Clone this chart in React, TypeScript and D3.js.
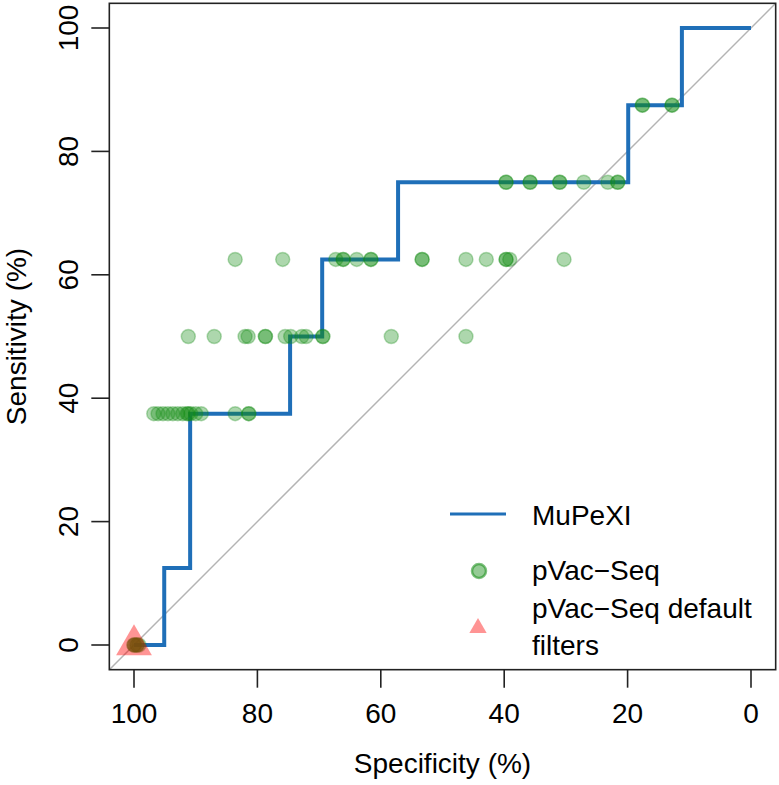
import { useEffect, useRef } from 'react';
import * as d3 from 'd3';

// MuPeXI ROC curve (specificity %, sensitivity %)
const mupexiSpec = [100, 95.1, 90.9, 74.7, 69.5, 57.2, 19.9, 11.2, 0];
const mupexiSens = [0, 12.5, 37.5, 50, 62.5, 75, 87.5, 100, 100];

// pVac-Seq runs with different filter settings
const pvacSpec = [
  100, 100, 99.8, 99.5, 99.5, 99.2,
  96.8, 96.1, 95.3, 94.5, 93.7, 92.9, 92.1, 91.4, 91.2, 90.8, 90.0, 89.1, 83.6, 81.4, 81.4,
  91.2, 87.0, 82.0, 81.5, 78.7, 78.7, 75.5, 74.6, 72.8, 72.1, 69.4, 69.4, 58.3, 46.2,
  83.6, 75.9, 67.3, 66.1, 66.1, 63.9, 61.6, 61.6, 53.3, 53.3, 46.2, 42.9, 39.7, 39.7, 39.1, 30.3,
  39.7, 39.7, 35.8, 35.8, 31.0, 31.0, 27.1, 23.2, 21.6, 21.6,
  17.6, 17.6, 12.8, 12.8,
];
const pvacSens = [
  0, 0, 0, 0, 0, 0,
  37.5, 37.5, 37.5, 37.5, 37.5, 37.5, 37.5, 37.5, 37.5, 37.5, 37.5, 37.5, 37.5, 37.5, 37.5,
  50, 50, 50, 50, 50, 50, 50, 50, 50, 50, 50, 50, 50, 50,
  62.5, 62.5, 62.5, 62.5, 62.5, 62.5, 62.5, 62.5, 62.5, 62.5, 62.5, 62.5, 62.5, 62.5, 62.5, 62.5,
  75, 75, 75, 75, 75, 75, 75, 75, 75, 75,
  87.5, 87.5, 87.5, 87.5,
];

// pVac-Seq with default filters
const defaultSpec = [100];
const defaultSens = [0];

const ticks = [0, 20, 40, 60, 80, 100];
const legendLabels = ['MuPeXI', 'pVac\u2212Seq', 'pVac\u2212Seq default', 'filters'];

const W = 779;
const H = 785;
const FONT = '"Liberation Sans", Arial, Helvetica, sans-serif';
const BLUE = '#1f6fb8';
const GREEN = 'rgb(20,140,20)';

export default function App() {
  const svgRef = useRef<SVGSVGElement>(null);

  useEffect(() => {
    if (!svgRef.current) return;
    const svg = d3.select(svgRef.current);
    svg.selectAll('*').remove();

    const x = d3.scaleLinear().domain([100, 0]).range([134, 751]);
    const y = d3.scaleLinear().domain([0, 100]).range([645, 28]);
    const [bx0, bx1] = [x(104), x(-4)];
    const [by0, by1] = [y(104), y(-4)];

    // diagonal reference
    svg.append('line')
      .attr('x1', x(104)).attr('y1', y(-4))
      .attr('x2', x(-4)).attr('y2', y(104))
      .attr('stroke', '#b4b4b4')
      .attr('stroke-width', 1.5);

    // MuPeXI step curve
    const steps = mupexiSpec.map((s, i) => [s, mupexiSens[i]] as [number, number]);
    const line = d3.line<[number, number]>()
      .x(d => x(d[0]))
      .y(d => y(d[1]))
      .curve(d3.curveStepAfter);
    svg.append('path')
      .datum(steps)
      .attr('d', line)
      .attr('fill', 'none')
      .attr('stroke', BLUE)
      .attr('stroke-width', 4);

    // pVac-Seq points
    svg.append('g')
      .selectAll('circle')
      .data(pvacSpec)
      .join('circle')
      .attr('cx', d => x(d))
      .attr('cy', (_, i) => y(pvacSens[i]))
      .attr('r', 7)
      .attr('fill', GREEN)
      .attr('fill-opacity', 0.35)
      .attr('stroke', GREEN)
      .attr('stroke-opacity', 0.3)
      .attr('stroke-width', 1.5);

    // default filters
    const tri = d3.symbol().type(d3.symbolTriangle).size(555);
    svg.append('g')
      .selectAll('path')
      .data(defaultSpec)
      .join('path')
      .attr('d', tri)
      .attr('transform', (d, i) => `translate(${x(d)},${y(defaultSens[i])})`)
      .attr('fill', 'rgb(255,0,0)')
      .attr('fill-opacity', 0.42);

    // box
    svg.append('rect')
      .attr('x', bx0).attr('y', by0)
      .attr('width', bx1 - bx0).attr('height', by1 - by0)
      .attr('fill', 'none')
      .attr('stroke', '#222')
      .attr('stroke-width', 1.6);

    // x axis
    const xa = svg.append('g').attr('font-family', FONT).attr('font-size', 28);
    ticks.forEach(t => {
      xa.append('line')
        .attr('x1', x(t)).attr('x2', x(t))
        .attr('y1', by1).attr('y2', by1 + 18)
        .attr('stroke', '#222').attr('stroke-width', 1.6);
      xa.append('text')
        .attr('x', x(t)).attr('y', 723)
        .attr('text-anchor', 'middle')
        .text(t);
    });
    xa.append('text')
      .attr('x', (bx0 + bx1) / 2).attr('y', 773)
      .attr('text-anchor', 'middle')
      .text('Specificity (%)');

    // y axis
    const ya = svg.append('g').attr('font-family', FONT).attr('font-size', 28);
    ticks.forEach(t => {
      ya.append('line')
        .attr('x1', bx0 - 18).attr('x2', bx0)
        .attr('y1', y(t)).attr('y2', y(t))
        .attr('stroke', '#222').attr('stroke-width', 1.6);
      ya.append('text')
        .attr('transform', `translate(78,${y(t)}) rotate(-90)`)
        .attr('text-anchor', 'middle')
        .text(t);
    });
    ya.append('text')
      .attr('transform', `translate(26,${(by0 + by1) / 2}) rotate(-90)`)
      .attr('text-anchor', 'middle')
      .text('Sensitivity (%)');

    // legend
    const lg = svg.append('g').attr('font-family', FONT).attr('font-size', 28);
    lg.append('line')
      .attr('x1', 450).attr('x2', 506)
      .attr('y1', 514).attr('y2', 514)
      .attr('stroke', BLUE).attr('stroke-width', 3);
    lg.append('circle')
      .attr('cx', 479).attr('cy', 571).attr('r', 7)
      .attr('fill', GREEN).attr('fill-opacity', 0.45)
      .attr('stroke', GREEN).attr('stroke-opacity', 0.55)
      .attr('stroke-width', 2.5);
    lg.append('path')
      .attr('d', d3.symbol().type(d3.symbolTriangle).size(130))
      .attr('transform', 'translate(478,628)')
      .attr('fill', 'rgb(255,0,0)')
      .attr('fill-opacity', 0.42);
    const baselines = [525, 580, 618, 655];
    legendLabels.forEach((l, i) => {
      lg.append('text')
        .attr('x', 532).attr('y', baselines[i])
        .text(l);
    });
  }, []);

  return (
    <svg
      ref={svgRef}
      width={W}
      height={H}
      style={{ position: 'absolute', left: 0, top: 0, background: '#fff' }}
    />
  );
}
